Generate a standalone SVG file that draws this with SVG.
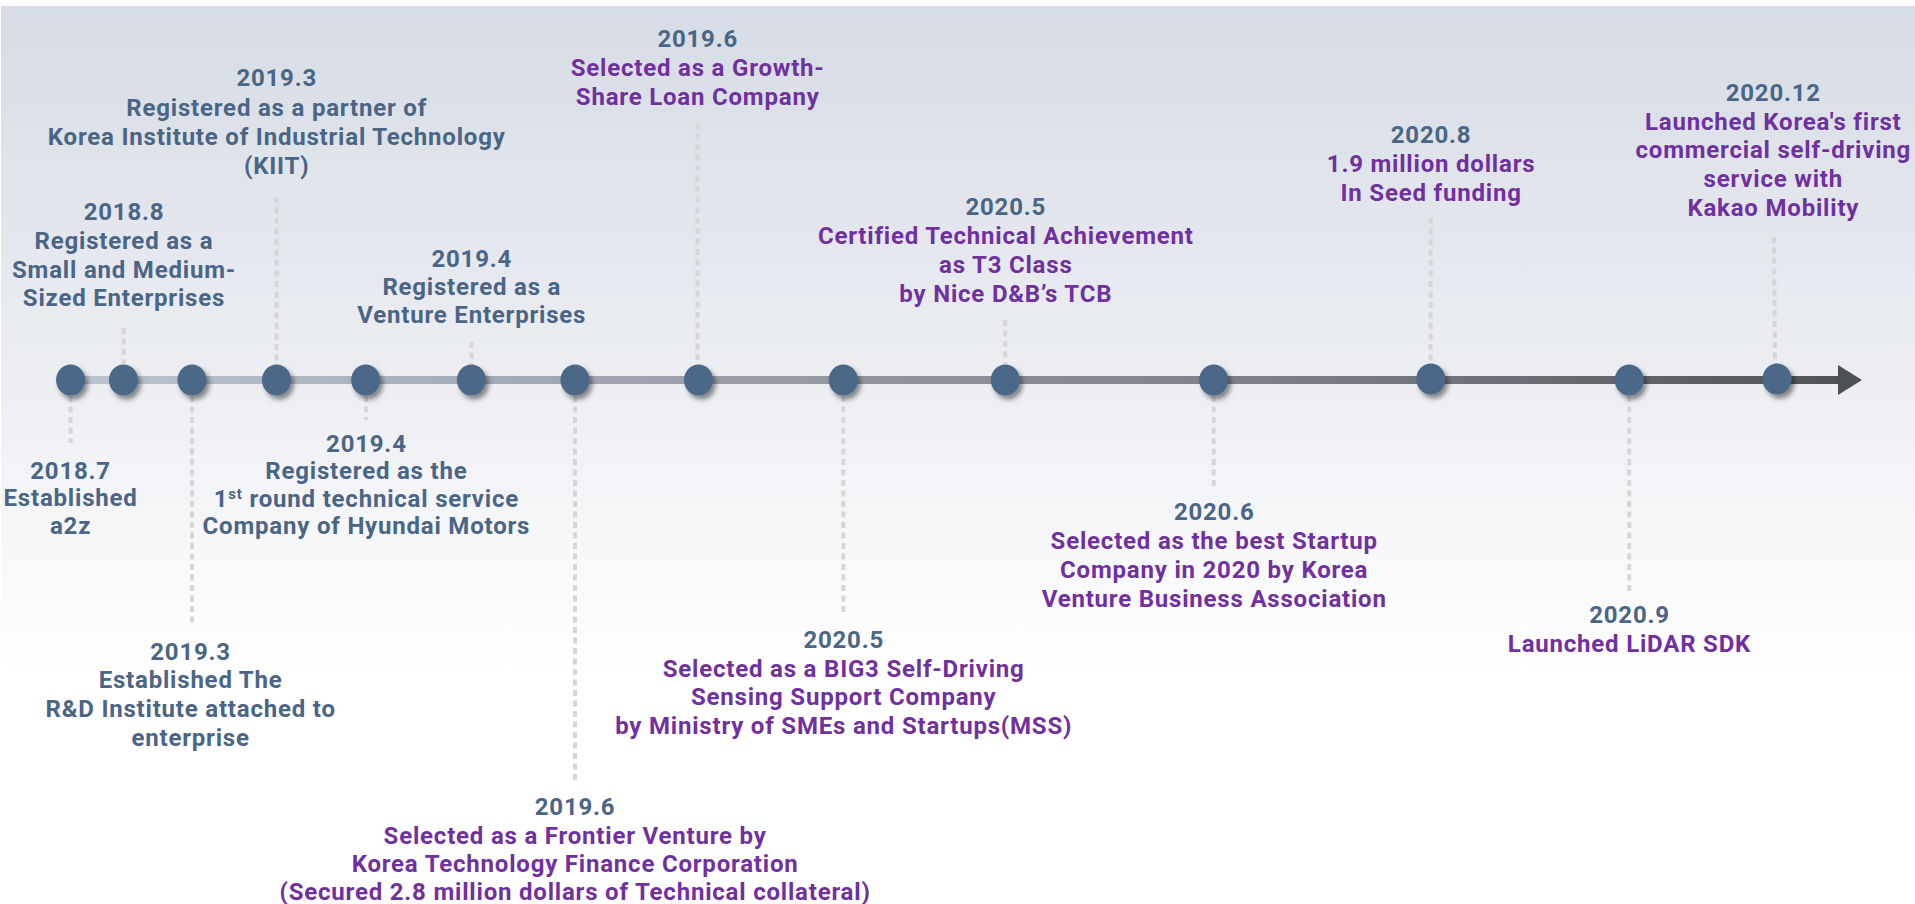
<svg xmlns="http://www.w3.org/2000/svg" width="1915" height="904" viewBox="0 0 1915 904">
<defs>
<linearGradient id="bg" x1="0" y1="6" x2="0" y2="680" gradientUnits="userSpaceOnUse">
<stop offset="0" stop-color="#d6dce5"/>
<stop offset="0.55" stop-color="#eceef2"/>
<stop offset="1" stop-color="#ffffff"/>
</linearGradient>
<linearGradient id="axis" x1="70" y1="0" x2="1840" y2="0" gradientUnits="userSpaceOnUse">
<stop offset="0" stop-color="#bcc4cf"/>
<stop offset="0.4" stop-color="#969ba4"/>
<stop offset="0.75" stop-color="#74777d"/>
<stop offset="1" stop-color="#505356"/>
</linearGradient>
<filter id="sh" x="-50%" y="-50%" width="200%" height="200%">
<feDropShadow dx="3" dy="4" stdDeviation="2.5" flood-color="#000" flood-opacity="0.45"/>
</filter>
</defs>
<style>
text{font-family:Roboto,"Noto Sans","Liberation Sans",sans-serif;font-weight:700;font-size:24px;letter-spacing:0.8px;text-anchor:middle}
.d{fill:#4a6586}
.p{fill:#7030a0}
.dot{fill:#4b6789;filter:url(#sh)}
.con line{stroke:#d6d6d6;stroke-width:4;stroke-dasharray:6 4.5}
</style>
<rect x="0" y="0" width="1915" height="904" fill="#ffffff"/>
<rect x="1" y="6" width="1914" height="898" fill="url(#bg)"/>
<g id="axis-line">
<rect x="70" y="376" width="1770" height="8" fill="url(#axis)"/>
<polygon points="1838,365 1862,380 1838,395" fill="#4d5054"/>
</g>
<g id="connectors" class="con">
<line x1="70.6" y1="396" x2="70.6" y2="443"/>
<line x1="123.7" y1="328" x2="123.7" y2="364"/>
<line x1="192" y1="396" x2="192" y2="627"/>
<line x1="276.5" y1="197" x2="276.5" y2="364"/>
<line x1="366" y1="396" x2="366" y2="420"/>
<line x1="471.4" y1="342" x2="471.4" y2="364"/>
<line x1="575" y1="396" x2="575" y2="780"/>
<line x1="697.5" y1="123" x2="697.5" y2="364"/>
<line x1="843.3" y1="396" x2="843.3" y2="615"/>
<line x1="1005.3" y1="320" x2="1005.3" y2="364"/>
<line x1="1213.7" y1="396" x2="1213.7" y2="487"/>
<line x1="1430.7" y1="218" x2="1430.7" y2="364"/>
<line x1="1629.2" y1="396" x2="1629.2" y2="592"/>
<line x1="1774" y1="237" x2="1775" y2="364"/>
</g>
<g id="n1">
<ellipse class="dot" cx="70.6" cy="380" rx="14.5" ry="15.5"/>
<text class="d" x="70.6" y="478.5">2018.7</text>
<text class="d" x="70.6" y="506">Established</text>
<text class="d" x="70.6" y="534">a2z</text>
</g>
<g id="n2">
<ellipse class="dot" cx="123.5" cy="380" rx="14.5" ry="15.5"/>
<text class="d" x="124" y="220">2018.8</text>
<text class="d" x="124" y="249">Registered as a</text>
<text class="d" x="124" y="278">Small and Medium-</text>
<text class="d" x="124" y="306">Sized Enterprises</text>
</g>
<g id="n3">
<ellipse class="dot" cx="192" cy="380" rx="14.5" ry="15.5"/>
<text class="d" x="190.6" y="660">2019.3</text>
<text class="d" x="190.6" y="688">Established The</text>
<text class="d" x="190.6" y="716.5">R&amp;D Institute attached to</text>
<text class="d" x="190.6" y="745.5">enterprise</text>
</g>
<g id="n4">
<ellipse class="dot" cx="276.5" cy="380" rx="14.5" ry="15.5"/>
<text class="d" x="276.7" y="86">2019.3</text>
<text class="d" x="276.7" y="116">Registered as a partner of</text>
<text class="d" x="276.7" y="145">Korea Institute of Industrial Technology</text>
<text class="d" x="276.7" y="174">(KIIT)</text>
</g>
<g id="n5">
<ellipse class="dot" cx="365.7" cy="380" rx="14.5" ry="15.5"/>
<text class="d" x="366.4" y="451.5">2019.4</text>
<text class="d" x="366.4" y="479">Registered as the</text>
<text class="d" x="366.4" y="507">1<tspan font-size="15" dy="-8">st</tspan><tspan dy="8"> round technical service</tspan></text>
<text class="d" x="366.4" y="534">Company of Hyundai Motors</text>
</g>
<g id="n6">
<ellipse class="dot" cx="471.4" cy="380" rx="14.5" ry="15.5"/>
<text class="d" x="471.8" y="266.5">2019.4</text>
<text class="d" x="471.8" y="295">Registered as a</text>
<text class="d" x="471.8" y="323">Venture Enterprises</text>
</g>
<g id="n7">
<ellipse class="dot" cx="575" cy="380" rx="14.5" ry="15.5"/>
<text class="d" x="575.1" y="815">2019.6</text>
<text class="p" x="575.1" y="844">Selected as a Frontier Venture by</text>
<text class="p" x="575.1" y="872">Korea Technology Finance Corporation</text>
<text class="p" x="575.1" y="900">(Secured 2.8 million dollars of Technical collateral)</text>
</g>
<g id="n8">
<ellipse class="dot" cx="698.5" cy="380" rx="14.5" ry="15.5"/>
<text class="d" x="697.7" y="46.5">2019.6</text>
<text class="p" x="697.7" y="76">Selected as a Growth-</text>
<text class="p" x="697.7" y="105">Share Loan Company</text>
</g>
<g id="n9">
<ellipse class="dot" cx="843.3" cy="380" rx="14.5" ry="15.5"/>
<text class="d" x="843.7" y="648">2020.5</text>
<text class="p" x="843.7" y="676.5">Selected as a BIG3 Self-Driving</text>
<text class="p" x="843.7" y="705">Sensing Support Company</text>
<text class="p" x="843.7" y="734">by Ministry of SMEs and Startups(MSS)</text>
</g>
<g id="n10">
<ellipse class="dot" cx="1005.3" cy="380" rx="14.5" ry="15.5"/>
<text class="d" x="1005.8" y="215">2020.5</text>
<text class="p" x="1005.8" y="243.5">Certified Technical Achievement</text>
<text class="p" x="1005.8" y="273">as T3 Class</text>
<text class="p" x="1005.8" y="301.5">by Nice D&amp;B’s TCB</text>
</g>
<g id="n11">
<ellipse class="dot" cx="1213.7" cy="380" rx="14.5" ry="15.5"/>
<text class="d" x="1214.2" y="520">2020.6</text>
<text class="p" x="1214.2" y="549">Selected as the best Startup</text>
<text class="p" x="1214.2" y="577.5">Company in 2020 by Korea</text>
<text class="p" x="1214.2" y="606.5">Venture Business Association</text>
</g>
<g id="n12">
<ellipse class="dot" cx="1430.8" cy="379" rx="14.5" ry="15.5"/>
<text class="d" x="1431.1" y="142.5">2020.8</text>
<text class="p" x="1431.1" y="172">1.9 million dollars</text>
<text class="p" x="1431.1" y="201">In Seed funding</text>
</g>
<g id="n13">
<ellipse class="dot" cx="1629.2" cy="380" rx="14.5" ry="15.5"/>
<text class="d" x="1629.5" y="623">2020.9</text>
<text class="p" x="1629.5" y="652">Launched LiDAR SDK</text>
</g>
<g id="n14">
<ellipse class="dot" cx="1777" cy="379" rx="14.5" ry="15.5"/>
<text class="d" x="1773.3" y="101">2020.12</text>
<text class="p" x="1773.3" y="130">Launched Korea's first</text>
<text class="p" x="1773.3" y="158">commercial self-driving</text>
<text class="p" x="1773.3" y="187">service with</text>
<text class="p" x="1773.3" y="215.5">Kakao Mobility</text>
</g>
</svg>
